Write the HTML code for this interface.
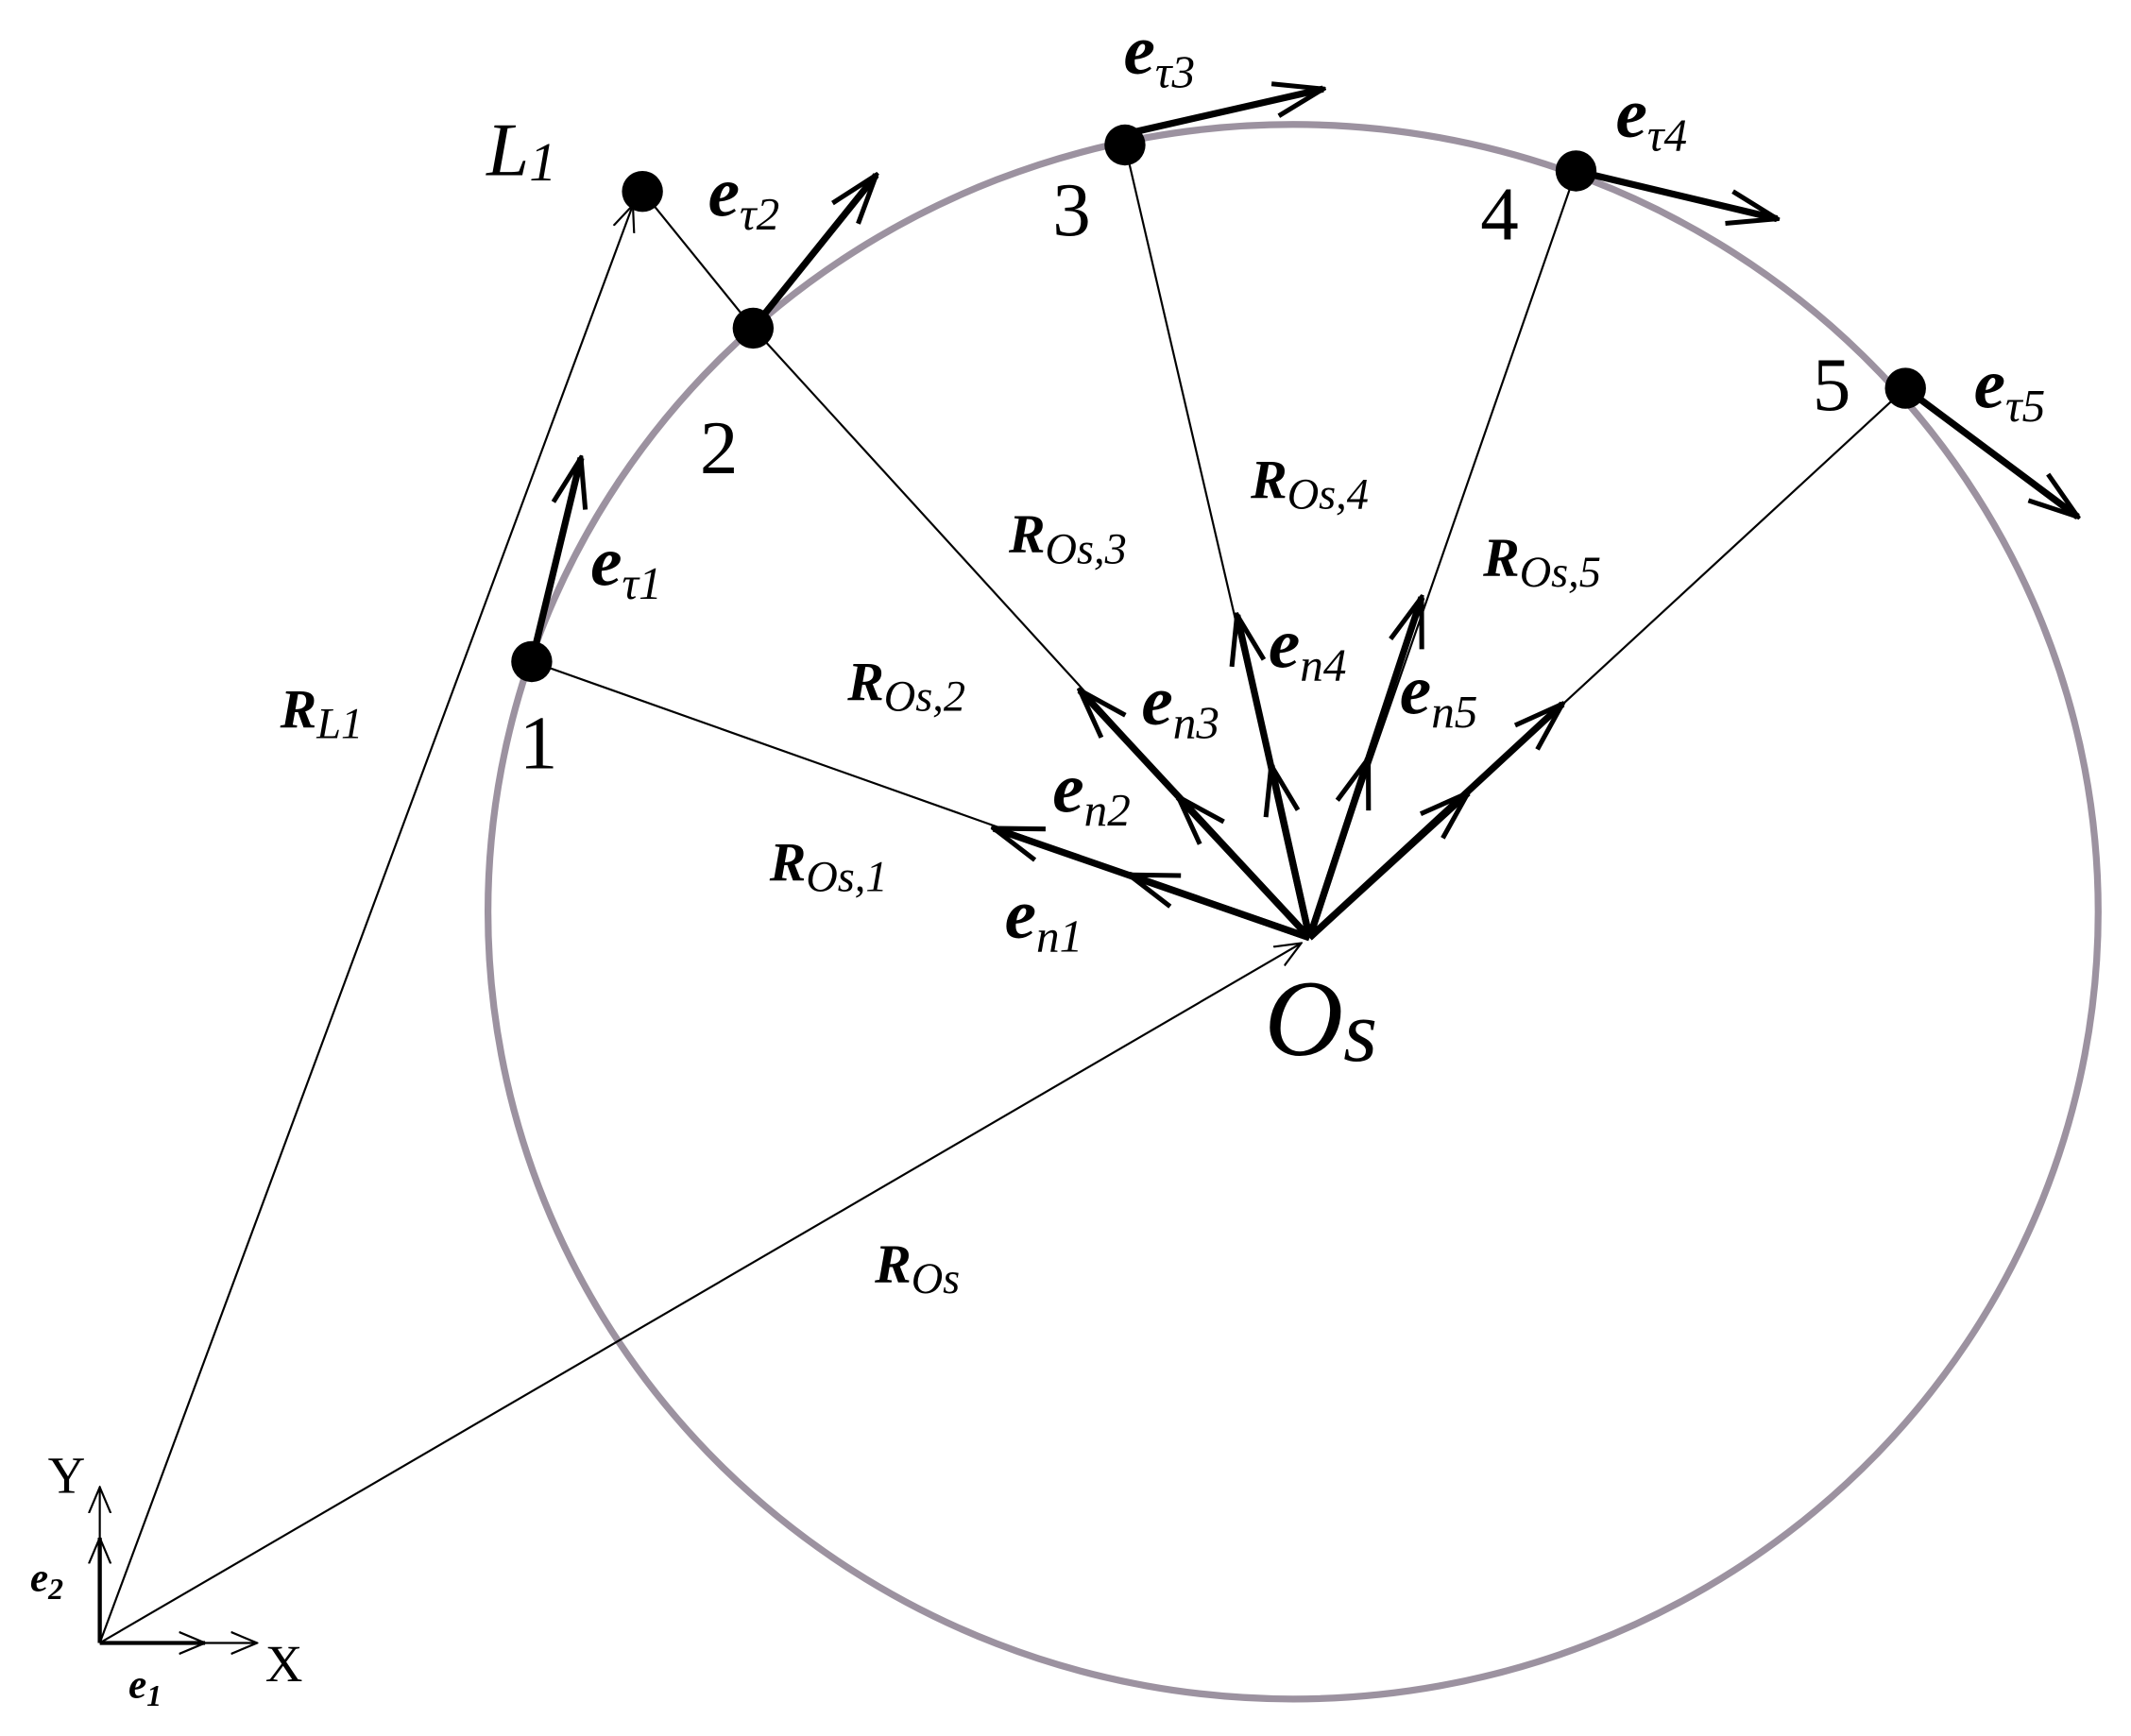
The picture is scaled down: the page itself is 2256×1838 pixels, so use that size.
<!DOCTYPE html>
<html><head><meta charset="utf-8"><style>html,body{margin:0;padding:0;background:#fff}svg{display:block}
text{font-family:"Liberation Serif",serif;fill:#000}
.b{font-weight:bold;font-style:italic}
.i{font-style:italic}
</style></head><body>
<svg width="2256" height="1838" viewBox="0 0 1559 1270" xmlns="http://www.w3.org/2000/svg">
<defs>
<marker id="a" viewBox="0 0 20 20" refX="19" refY="10" markerWidth="20" markerHeight="20" markerUnits="userSpaceOnUse" orient="auto"><path d="M0,2 L19,10 L0,18" fill="none" stroke="#000" stroke-width="1.5"/></marker>
<marker id="t" viewBox="0 0 40 30" refX="38" refY="15" markerWidth="40" markerHeight="30" markerUnits="userSpaceOnUse" orient="auto"><path d="M2,3 L38,15 L2,27" fill="none" stroke="#000" stroke-width="3.5"/></marker>
</defs>
<ellipse cx="946" cy="667" rx="589" ry="576" fill="none" stroke="#9c92a0" stroke-width="5"/>
<g stroke="#000" stroke-width="1.5" fill="none">
<line x1="958" y1="686" x2="389" y2="484"/>
<polyline points="470,140 551,240 958,686"/>
<line x1="958" y1="686" x2="823" y2="106"/>
<line x1="958" y1="686" x2="1153" y2="125"/>
<line x1="958" y1="686" x2="1394" y2="284"/>
<line x1="73" y1="1202" x2="463" y2="150" marker-end="url(#a)"/>
<line x1="73" y1="1202" x2="952" y2="690" marker-end="url(#a)"/>
<line x1="73" y1="1202" x2="73" y2="1088" marker-end="url(#a)"/>
<line x1="73" y1="1202" x2="188" y2="1202" marker-end="url(#a)"/>
</g>
<g stroke="#000" stroke-width="5" fill="none">
<line x1="958" y1="686" x2="727" y2="606" marker-end="url(#t)"/>
<line x1="958" y1="686" x2="790" y2="505" marker-end="url(#t)"/>
<line x1="958" y1="686" x2="905" y2="450" marker-end="url(#t)"/>
<line x1="958" y1="686" x2="1040" y2="437" marker-end="url(#t)"/>
<line x1="958" y1="686" x2="1143" y2="515" marker-end="url(#t)"/>
<line x1="958" y1="686" x2="826" y2="640" marker-end="url(#t)"/>
<line x1="958" y1="686" x2="862" y2="583" marker-end="url(#t)"/>
<line x1="958" y1="686" x2="930" y2="560" marker-end="url(#t)"/>
<line x1="958" y1="686" x2="1001" y2="555" marker-end="url(#t)"/>
<line x1="958" y1="686" x2="1074" y2="580" marker-end="url(#t)"/>
<line x1="389" y1="484" x2="425" y2="335" marker-end="url(#t)"/>
<line x1="551" y1="240" x2="641" y2="128" marker-end="url(#t)"/>
<line x1="823" y1="98" x2="968" y2="65" marker-end="url(#t)"/>
<line x1="1153" y1="125" x2="1300" y2="160" marker-end="url(#t)"/>
<line x1="1394" y1="284" x2="1520" y2="378" marker-end="url(#t)"/>
<line x1="73" y1="1202" x2="73" y2="1125" stroke-width="3" marker-end="url(#a)"/>
<line x1="73" y1="1202" x2="150" y2="1202" stroke-width="3" marker-end="url(#a)"/>
</g>
<g fill="#000">
<circle cx="389" cy="484" r="15"/><circle cx="551" cy="240" r="15"/><circle cx="823" cy="106" r="15"/>
<circle cx="1153" cy="125" r="15"/><circle cx="1394" cy="284" r="15"/><circle cx="470" cy="140" r="15"/>
</g>
<g font-size="56">
<text x="356" y="128" class="i">L<tspan font-size="40" dy="4">1</tspan></text>
<text x="380" y="562">1</text><text x="512" y="346">2</text><text x="770" y="172">3</text>
<text x="1083" y="175">4</text><text x="1326" y="300">5</text>
<text x="925" y="772" class="i" font-size="80">O<tspan font-size="64" dy="4">s</tspan></text>
</g>
<g font-size="52" class="b">
<text x="432" y="428">e<tspan font-size="34" font-weight="normal" dy="10">τ1</tspan></text>
<text x="518" y="158">e<tspan font-size="34" font-weight="normal" dy="10">τ2</tspan></text>
<text x="822" y="54">e<tspan font-size="34" font-weight="normal" dy="10">τ3</tspan></text>
<text x="1182" y="100">e<tspan font-size="34" font-weight="normal" dy="10">τ4</tspan></text>
<text x="1444" y="298">e<tspan font-size="34" font-weight="normal" dy="10">τ5</tspan></text>
<text x="735" y="686">e<tspan font-size="34" font-weight="normal" dy="10">n1</tspan></text>
<text x="770" y="594">e<tspan font-size="34" font-weight="normal" dy="10">n2</tspan></text>
<text x="835" y="530">e<tspan font-size="34" font-weight="normal" dy="10">n3</tspan></text>
<text x="928" y="488">e<tspan font-size="34" font-weight="normal" dy="10">n4</tspan></text>
<text x="1024" y="522">e<tspan font-size="34" font-weight="normal" dy="10">n5</tspan></text>
</g>
<g font-size="40" class="b">
<text x="205" y="532">R<tspan font-size="32" font-weight="normal" dy="8">L1</tspan></text>
<text x="640" y="938">R<tspan font-size="32" font-weight="normal" dy="8">Os</tspan></text>
<text x="563" y="644">R<tspan font-size="32" font-weight="normal" dy="8">Os,1</tspan></text>
<text x="620" y="512">R<tspan font-size="32" font-weight="normal" dy="8">Os,2</tspan></text>
<text x="738" y="404">R<tspan font-size="32" font-weight="normal" dy="8">Os,3</tspan></text>
<text x="915" y="364">R<tspan font-size="32" font-weight="normal" dy="8">Os,4</tspan></text>
<text x="1085" y="421">R<tspan font-size="32" font-weight="normal" dy="8">Os,5</tspan></text>
</g>
<text x="35" y="1092" font-size="38">Y</text>
<text x="194" y="1230" font-size="38">X</text>
<text x="22" y="1164" font-size="30" class="b">e<tspan font-size="22" dy="6">2</tspan></text>
<text x="94" y="1242" font-size="30" class="b">e<tspan font-size="22" dy="6">1</tspan></text>
</svg>
</body></html>
